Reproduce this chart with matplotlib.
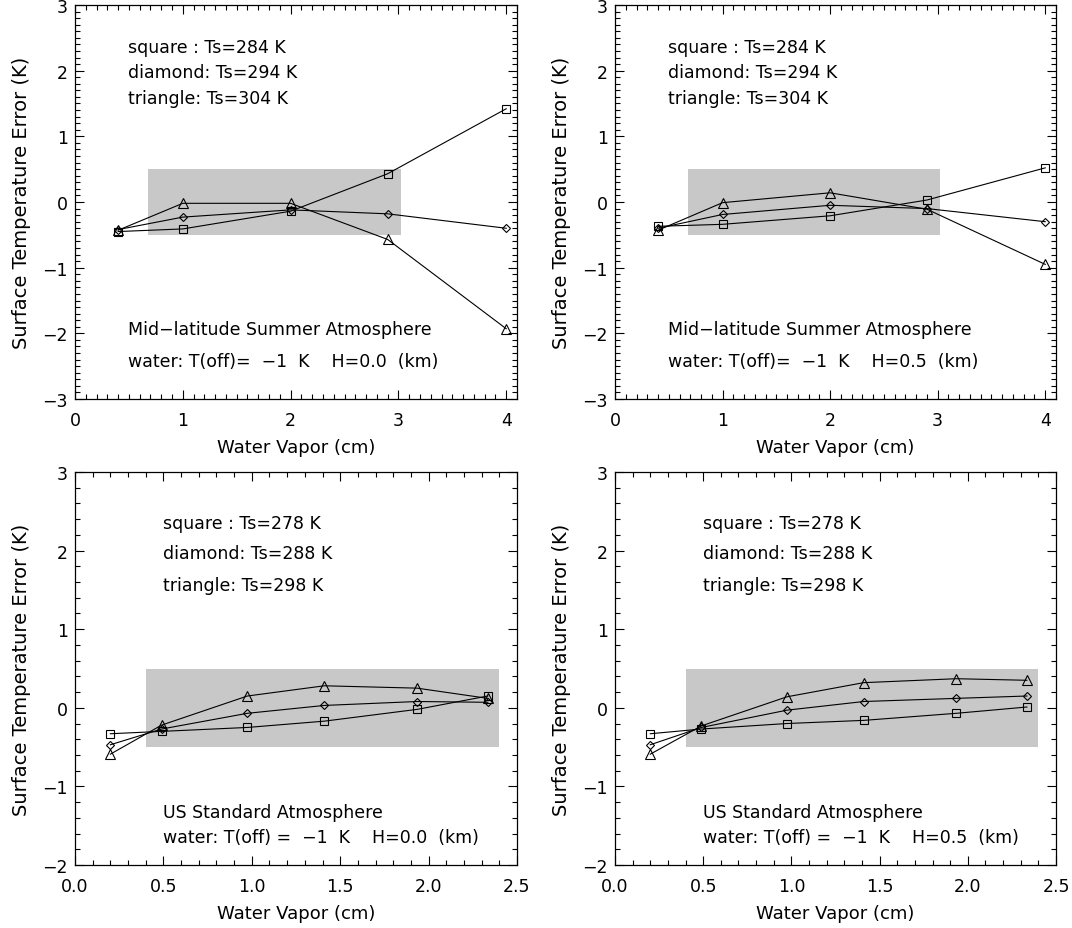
import numpy as np
import matplotlib
matplotlib.use("Agg")
import matplotlib.pyplot as plt
from matplotlib.ticker import MultipleLocator, FormatStrFormatter

# Mid-latitude summer atmosphere (top row)
mls_wv = [0.4, 1.0, 2.0, 2.9, 4.0]
mls_h00_square = [-0.45, -0.41, -0.14, 0.43, 1.42]
mls_h00_diamond = [-0.42, -0.23, -0.12, -0.18, -0.40]
mls_h00_triangle = [-0.43, -0.02, -0.02, -0.57, -1.93]
mls_h05_square = [-0.37, -0.34, -0.21, 0.03, 0.52]
mls_h05_diamond = [-0.40, -0.19, -0.05, -0.10, -0.30]
mls_h05_triangle = [-0.43, -0.01, 0.14, -0.11, -0.95]

# US standard atmosphere (bottom row)
us_wv = [0.2, 0.49, 0.975, 1.41, 1.935, 2.335]
us_h00_square = [-0.33, -0.30, -0.25, -0.17, -0.02, 0.15]
us_h00_diamond = [-0.47, -0.27, -0.07, 0.03, 0.08, 0.07]
us_h00_triangle = [-0.59, -0.22, 0.15, 0.28, 0.25, 0.12]
us_h05_square = [-0.33, -0.27, -0.20, -0.16, -0.07, 0.01]
us_h05_diamond = [-0.47, -0.25, -0.03, 0.08, 0.12, 0.15]
us_h05_triangle = [-0.59, -0.23, 0.14, 0.32, 0.37, 0.35]

mls_legend = ["square : Ts=284 K", "diamond: Ts=294 K", "triangle: Ts=304 K"]
us_legend = ["square : Ts=278 K", "diamond: Ts=288 K", "triangle: Ts=298 K"]

plt.rcParams['font.family'] = ['DejaVu Sans']
fs = 12.5
W, H = 1072, 929
fig = plt.figure(figsize=(W / 100, H / 100), dpi=100)


def make_axes(x0, x1, y0, y1):
    return fig.add_axes([x0 / W, 1 - y1 / H, (x1 - x0) / W, (y1 - y0) / H])


def style(ax, xminor, yminor):
    ax.tick_params(which='both', direction='in', top=True, right=True,
                   labelsize=fs, width=0.8, color='black')
    ax.tick_params(which='major', length=6.5)
    ax.tick_params(which='minor', length=3.5)
    ax.tick_params(axis='x', pad=9)
    ax.tick_params(axis='y', pad=5)
    ax.xaxis.set_minor_locator(MultipleLocator(xminor))
    ax.yaxis.set_minor_locator(MultipleLocator(yminor))
    for s in ax.spines.values():
        s.set_linewidth(0.9)
    ax.set_xlabel("Water Vapor (cm)", fontsize=13)
    ax.set_ylabel("Surface Temperature Error (K)", fontsize=14)
    ax.xaxis.set_label_coords(0.5, -0.10)
    ax.yaxis.set_label_coords(-0.10, 0.5)


def draw(ax, wv, sq, di, tr):
    kw = dict(color='black', lw=0.8, mfc='none', mec='black', mew=0.8)
    ax.plot(wv, sq, marker='s', ms=6, **kw)
    ax.plot(wv, di, marker='D', ms=4, **kw)
    ax.plot(wv, tr, marker='^', ms=6.5, **kw)


top = [
    (make_axes(75, 517, 6, 400), mls_h00_square, mls_h00_diamond, mls_h00_triangle, "H=0.0"),
    (make_axes(615, 1056, 6, 400), mls_h05_square, mls_h05_diamond, mls_h05_triangle, "H=0.5"),
]
for ax, sq, di, tr, h in top:
    ax.axvspan(0.68, 3.02, ymin=2.5 / 6, ymax=3.5 / 6, color='#c8c8c8', lw=0, zorder=0)
    draw(ax, mls_wv, sq, di, tr)
    ax.set_xlim(0, 4.1)
    ax.set_ylim(-3, 3)
    ax.set_xticks([0, 1, 2, 3, 4])
    ax.set_yticks([-3, -2, -1, 0, 1, 2, 3])
    style(ax, 0.1, 0.1)
    for txt, yy in zip(mls_legend, [0.893, 0.831, 0.763]):
        ax.text(0.12, yy, txt, transform=ax.transAxes, fontsize=fs, va='center')
    ax.text(0.12, 0.178, "Mid\u2212latitude Summer Atmosphere", transform=ax.transAxes,
            fontsize=fs, va='center')
    ax.text(0.12, 0.097, "water: T(off)=  \u22121  K    " + h + "  (km)", transform=ax.transAxes,
            fontsize=fs, va='center')

bottom = [
    (make_axes(75, 517, 473, 866), us_h00_square, us_h00_diamond, us_h00_triangle, "H=0.0"),
    (make_axes(615, 1056, 473, 866), us_h05_square, us_h05_diamond, us_h05_triangle, "H=0.5"),
]
for ax, sq, di, tr, h in bottom:
    ax.axvspan(0.4, 2.4, ymin=1.5 / 5, ymax=2.5 / 5, color='#c8c8c8', lw=0, zorder=0)
    draw(ax, us_wv, sq, di, tr)
    ax.set_xlim(0, 2.5)
    ax.set_ylim(-2, 3)
    ax.set_xticks([0, 0.5, 1.0, 1.5, 2.0, 2.5])
    ax.xaxis.set_major_formatter(FormatStrFormatter('%.1f'))
    ax.set_yticks([-2, -1, 0, 1, 2, 3])
    style(ax, 0.1, 0.2)
    for txt, yy in zip(us_legend, [0.871, 0.793, 0.712]):
        ax.text(0.20, yy, txt, transform=ax.transAxes, fontsize=fs, va='center')
    ax.text(0.20, 0.134, "US Standard Atmosphere", transform=ax.transAxes,
            fontsize=fs, va='center')
    ax.text(0.20, 0.072, "water: T(off) =  \u22121  K    " + h + "  (km)", transform=ax.transAxes,
            fontsize=fs, va='center')

fig.savefig("out.png", dpi=100)
